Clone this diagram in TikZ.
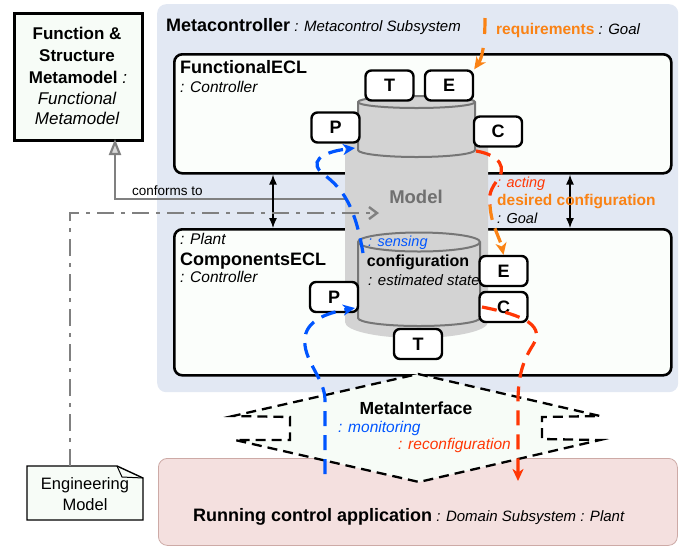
\documentclass[tikz,border=0pt]{standalone}
\usepackage{fontspec}
\setmainfont{Liberation Sans}
\usetikzlibrary{arrows.meta,calc}
\definecolor{metabg}{RGB}{226,232,243}
\definecolor{pinkbg}{RGB}{244,224,223}
\definecolor{pinkln}{RGB}{205,170,166}
\definecolor{lgreen}{RGB}{247,252,247}
\definecolor{mgray}{RGB}{211,211,211}
\definecolor{lgrayln}{RGB}{118,118,118}
\definecolor{mtext}{RGB}{112,112,112}
\definecolor{orng}{RGB}{250,130,20}
\definecolor{rd}{RGB}{255,55,5}
\definecolor{bl}{RGB}{0,85,255}
\definecolor{conn}{RGB}{128,128,128}
\definecolor{boxfill}{RGB}{251,254,251}
\begin{document}
\begin{tikzpicture}[x=1pt,y=-1pt,
  ecl/.style={draw, line width=2.6pt, fill=boxfill, rounded corners=8pt, inner sep=0pt, anchor=north west},
  port/.style={draw, line width=2.4pt, fill=white, rounded corners=6pt, inner sep=0pt,
    minimum width=48pt, minimum height=30pt, font=\fontsize{18}{20}\selectfont\bfseries},
  bt/.style={font=\fontsize{18}{20}\selectfont\bfseries, inner sep=0pt},
  it/.style={font=\fontsize{15.5}{18}\selectfont\itshape, inner sep=0pt},
  ob/.style={font=\fontsize{15.5}{18}\selectfont\bfseries, text=orng, inner sep=0pt},
  cyl/.style={fill=mgray, draw=lgrayln, line width=2pt},
  flow/.style={line width=3.2pt, dash pattern=on 15pt off 9pt},
  tip/.style={-{Stealth[length=12pt,width=11pt,inset=3.5pt]}},
  dblarr/.style={line width=1.3pt, {Latex[length=10pt,width=8pt]}-{Latex[length=10pt,width=8pt]}},
  dashblack/.style={line width=2.3pt, dash pattern=on 10pt off 6pt}
]
\useasboundingbox (0,0) rectangle (683,547);

% backgrounds
\node[fill=metabg, rounded corners=9pt, minimum width=521pt, minimum height=388pt, anchor=north west, inner sep=0pt] (meta) at (157,4) {};
\node[fill=pinkbg, draw=pinkln, line width=0.8pt, rounded corners=9pt, minimum width=519pt, minimum height=87pt, anchor=north west, inner sep=0pt] (plant) at (158,458) {};

% Function & Structure Metamodel
\node[draw, line width=2.6pt, fill=lgreen, minimum width=128pt, minimum height=127pt, anchor=north west, inner sep=0pt] (fsm) at (13,12) {};
\node[anchor=base, inner sep=0pt, font=\fontsize{17}{20}\selectfont\bfseries] (fsmA) at (77,39) {Function \&};
\node[anchor=base, inner sep=0pt, font=\fontsize{17}{20}\selectfont\bfseries] (fsmB) at (77,61) {Structure};
\node[anchor=base, inner sep=0pt, font=\fontsize{17}{20}\selectfont\bfseries] (fsmC) at (78,83) {Metamodel {\mdseries\itshape :}};
\node[anchor=base, inner sep=0pt, font=\fontsize{17}{20}\selectfont\itshape] (fsmD) at (77,104) {Functional};
\node[anchor=base, inner sep=0pt, font=\fontsize{17}{20}\selectfont\itshape] (fsmE) at (77,124) {Metamodel};

% Engineering model note
\coordinate (engtop) at (70,466);
\draw[line width=1.4pt, fill=lgreen] (27,466) -- (117,466) -- (143,478) -- (143,520) -- (27,520) -- cycle;
\draw[line width=1pt] (117,466) -- (122,477) -- (143,478);
\node[anchor=base, inner sep=0pt, font=\fontsize{16.5}{19}\selectfont] (engA) at (85,489) {Engineering};
\node[anchor=base, inner sep=0pt, font=\fontsize{16.5}{19}\selectfont] (engB) at (85,510) {Model};

% conforms to
\coordinate (mleft) at (360,199);
\coordinate (fsmarr) at (115,139);
\draw[conn, line width=2.2pt, -{Triangle[length=16pt,width=12pt,fill=black!15]}] (mleft) -| (fsmarr);
\node[anchor=base west, inner sep=0pt, font=\fontsize{13.5}{16}\selectfont] (conf) at (132,195) {conforms to};

% ECL boxes
\node[ecl, minimum width=497pt, minimum height=119pt] (fecl) at (173,53) {};
\node[ecl, minimum width=497pt, minimum height=146pt] (cecl) at (173,228) {};
\draw[dblarr] ($(fecl.south west)+(100,0)$) -- ($(cecl.north west)+(100,0)$);
\draw[dblarr] ($(fecl.south west)+(397,0)$) -- ($(cecl.north west)+(397,0)$);

% Model body
\fill[mgray] (345,140) -- (345,322) arc[start angle=180,end angle=360,x radius=71.5pt,y radius=16pt] -- (488,140) -- cycle;
% lower cylinder
\draw[cyl] (358,242) -- (358,318) arc[start angle=180,end angle=360,x radius=61pt,y radius=8pt] -- (480,242) arc[start angle=0,end angle=180,x radius=61pt,y radius=9.5pt] -- cycle;
\draw[draw=lgrayln, line width=2pt] (358,242) arc[start angle=180,end angle=360,x radius=61pt,y radius=9.5pt];
% upper cylinder
\draw[cyl] (358,102) -- (358,150) arc[start angle=180,end angle=360,x radius=58.5pt,y radius=7pt] -- (475,102) arc[start angle=0,end angle=180,x radius=58.5pt,y radius=6pt] -- cycle;
\draw[draw=lgrayln, line width=2pt] (358,102) arc[start angle=180,end angle=360,x radius=58.5pt,y radius=6pt];

% dash-dot engineering model arrow
\coordinate (mdlin) at (379,213);
\draw[conn, line width=2.4pt, dash pattern=on 17pt off 7pt on 4pt off 7pt, -{Straight Barb[length=8pt,width=12pt]}] (engtop) |- (mdlin);

% MetaInterface
\draw[dashblack, fill=lgreen] (418,374) -- (600,416) -- (542,417) -- (542,439) -- (600,440) -- (419,482) -- (235,440) -- (290,440) -- (290,417) -- (233,416) -- cycle;

% ports
\node[port] (Tu) at (389.5,85.5) {T};
\node[port] (Eu) at (449,85.5) {E};
\node[port] (Pu) at (335.5,127.5) {P};
\node[port] (Cu) at (498,131.5) {C};
\node[port] (Pl) at (334,297) {P};
\node[port] (Tl) at (418,344) {T};
\node[port] (El) at (503.5,271) {E};
\node[port] (Cl) at (503.5,307) {C};

% flows
\coordinate (reqs) at (485,18);
\draw[flow, orng, dash pattern=on 16pt off 14pt, tip] (reqs) .. controls (485,45) and (482,58) .. (Eu.north east);
\coordinate (act0) at (476,151);
\coordinate (actm) at (490,205);
\draw[flow, rd] (act0) .. controls (500,155) and (508,168) .. (496,182) .. controls (489,192) and (489,198) .. (actm);
\draw[flow, orng, tip] (actm) .. controls (491,225) and (500,238) .. (El.north);
\coordinate (rc0) at (482,307);
\coordinate (rcend) at (518,481);
\draw[flow, rd, tip] (rc0) .. controls (512,313) and (548,322) .. (533,345) .. controls (522,362) and (518,378) .. (518,402) -- (rcend);
\coordinate (mon0) at (325,474);
\coordinate (mon1) at (355,308);
\draw[flow, bl, tip] (mon0) -- (325,400) .. controls (325,378) and (302,360) .. (305,337) .. controls (308,318) and (332,312) .. (mon1);
\coordinate (sen0) at (363,253);
\coordinate (sen1) at (355,148);
\draw[flow, bl, tip] (sen0) .. controls (356,212) and (346,192) .. (327,177) .. controls (305,162) and (322,152) .. (sen1);

% texts
\node[anchor=base west, inner sep=0pt, font=\fontsize{15}{18}\selectfont\itshape] (mtitle) at (166,31) {{\fontsize{18}{20}\selectfont\bfseries\upshape Metacontroller} : Metacontrol Subsystem};
\node[anchor=base west, inner sep=0pt, font=\fontsize{15}{18}\selectfont\itshape] (req) at (496,34) {{\fontsize{15.5}{18}\selectfont\bfseries\upshape\color{orng}requirements} : Goal};
\node[bt, anchor=base west] (fname) at (180,73) {FunctionalECL};
\node[it, anchor=base west] (fctl) at (180,92) {: Controller};
\node[it, anchor=base west] (cplant) at (180,244) {: Plant};
\node[bt, anchor=base west] (cname) at (180,265) {ComponentsECL};
\node[it, anchor=base west] (cctl) at (180,282) {: Controller};
\node[anchor=base, inner sep=0pt, font=\fontsize{18.5}{20}\selectfont\bfseries, text=mtext] (mdl) at (416,203) {Model};
\node[it, anchor=base west, text=rd, font=\fontsize{14.5}{17}\selectfont\itshape] (acting) at (497,187) {: acting};
\node[ob, anchor=base west] (desired) at (497,205) {desired configuration};
\node[it, anchor=base west, font=\fontsize{14.5}{17}\selectfont\itshape] (goal) at (497,223) {: Goal};
\node[anchor=base west, inner sep=0pt, text=bl, font=\fontsize{14.5}{17}\selectfont\itshape] (sens) at (368,246) {: sensing};
\node[anchor=base, inner sep=0pt, font=\fontsize{16}{18}\selectfont\bfseries] (conf2) at (418,266) {configuration};
\node[anchor=base west, inner sep=0pt, font=\fontsize{15}{18}\selectfont\itshape] (est) at (368,285) {: estimated state};
\node[anchor=base, inner sep=0pt, font=\fontsize{17.5}{20}\selectfont\bfseries] (mi) at (416,414) {MetaInterface};
\node[anchor=base west, inner sep=0pt, text=bl, font=\fontsize{15.5}{18}\selectfont\itshape] (mon) at (338,432) {: monitoring};
\node[anchor=base west, inner sep=0pt, text=rd, font=\fontsize{15.5}{18}\selectfont\itshape] (rec) at (398,449) {: reconfiguration};
\node[anchor=base west, inner sep=0pt, font=\fontsize{15}{18}\selectfont\itshape] (run) at (193,521) {{\fontsize{18}{20}\selectfont\bfseries\upshape Running control application} : Domain Subsystem : Plant};
\end{tikzpicture}
\end{document}
